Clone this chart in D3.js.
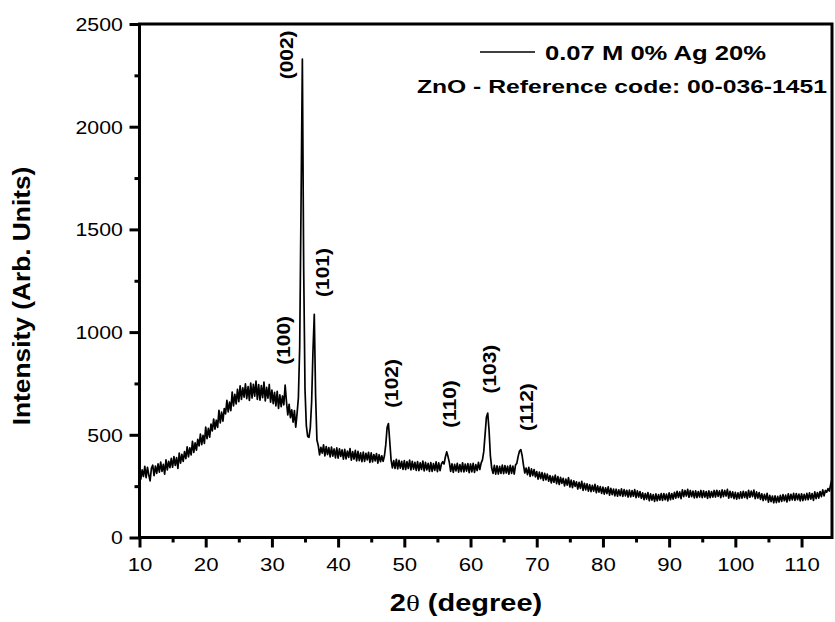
<!DOCTYPE html>
<html>
<head>
<meta charset="utf-8">
<script src="https://cdn.jsdelivr.net/npm/d3@7"></script>
<style>
  html, body { margin: 0; padding: 0; background: #fff; }
  svg { display: block; }
  text { font-family: "Liberation Sans", Arial, sans-serif; fill: #000; }
</style>
</head>
<body>
<svg id="chart" width="835" height="622"></svg>
<script>
// XRD scan: 2θ from 10° in 0.2° steps, intensity in arbitrary units
const scanStart = 10;
const scanStep = 0.2;
const intensity = [
  338, 284, 329, 297, 346,   // 10
  291, 342, 305, 276, 337,   // 11
  352, 301, 348, 312, 359,   // 12
  318, 367, 322, 356, 308,   // 13
  378, 329, 371, 340, 385,   // 14
  342, 394, 351, 389, 336,   // 15
  411, 362, 405, 371, 418,   // 16
  384, 441, 393, 436, 402,   // 17
  468, 414, 461, 425, 478,   // 18
  446, 503, 452, 497, 458,   // 19
  538, 481, 531, 489, 552,   // 20
  519, 577, 528, 571, 536,   // 21
  619, 558, 611, 566, 628,   // 22
  602, 668, 611, 659, 618,   // 23
  708, 641, 697, 650, 721,   // 24
  661, 738, 672, 729, 683,   // 25
  748, 676, 735, 667, 752,   // 26
  679, 746, 688, 761, 672,   // 27
  744, 669, 739, 681, 757,   // 28
  665, 731, 678, 745, 659,   // 29
  718, 652, 707, 641, 712,   // 30
  628, 694, 637, 689, 646,   // 31
  742, 661, 597, 648, 584,   // 32
  622, 561, 618, 537, 603,   // 33
  680, 930, 1620, 2329, 1310,// 34
  720, 545, 492, 488, 535,   // 35
  660, 905, 1087, 690, 475,  // 36
  448, 402, 439, 411, 451,   // 37
  397, 443, 404, 438, 392,   // 38
  440, 396, 431, 388, 437,   // 39
  386, 432, 395, 427, 381,   // 40
  429, 383, 421, 390, 433,   // 41
  377, 418, 382, 424, 373,   // 42
  419, 374, 412, 369, 416,   // 43
  371, 410, 378, 415, 366,   // 44
  412, 368, 404, 373, 409,   // 45
  362, 403, 369, 398, 371,   // 46
  398, 452, 535, 555, 468,   // 47
  378, 339, 374, 336, 381,   // 48
  334, 376, 338, 371, 332,   // 49
  374, 331, 369, 336, 377,   // 50
  329, 371, 333, 366, 327,   // 51
  369, 326, 364, 331, 372,   // 52
  324, 366, 329, 361, 322,   // 53
  365, 322, 360, 327, 368,   // 54
  321, 363, 326, 358, 369,   // 55
  358, 392, 417, 394, 366,   // 56
  322, 359, 317, 356, 324,   // 57
  361, 318, 355, 321, 364,   // 58
  319, 357, 323, 360, 316,   // 59
  358, 320, 361, 317, 355,   // 60
  326, 366, 331, 362, 378,   // 61
  418, 502, 586, 606, 522,   // 62
  398, 338, 312, 351, 308,   // 63
  349, 309, 346, 312, 352,   // 64
  311, 350, 314, 347, 308,   // 65
  351, 312, 348, 309, 353,   // 66
  362, 396, 421, 428, 398,   // 67
  352, 314, 338, 306, 341,   // 68
  298, 334, 301, 331, 295,   // 69
  321, 284, 318, 287, 316,   // 70
  278, 312, 281, 309, 274,   // 71
  301, 266, 298, 269, 304,   // 72
  262, 296, 258, 293, 264,   // 73
  288, 251, 284, 255, 291,   // 74
  246, 279, 243, 276, 249,   // 75
  271, 236, 268, 239, 273,   // 76
  229, 264, 232, 261, 226,   // 77
  257, 223, 254, 226, 259,   // 78
  218, 251, 221, 248, 215,   // 79
  245, 211, 242, 214, 247,   // 80
  206, 239, 209, 236, 203,   // 81
  235, 201, 232, 204, 237,   // 82
  200, 233, 203, 230, 197,   // 83
  231, 198, 228, 201, 233,   // 84
  194, 227, 197, 224, 191,   // 85
  217, 184, 214, 187, 219,   // 86
  179, 212, 182, 209, 176,   // 87
  212, 179, 209, 182, 214,   // 88
  181, 214, 184, 211, 178,   // 89
  217, 184, 214, 187, 220,   // 90
  192, 225, 195, 222, 189,   // 91
  232, 199, 229, 202, 234,   // 92
  196, 229, 199, 226, 193,   // 93
  227, 194, 224, 197, 229,   // 94
  194, 227, 197, 224, 191,   // 95
  227, 194, 224, 197, 229,   // 96
  197, 230, 200, 227, 194,   // 97
  232, 199, 229, 202, 234,   // 98
  192, 225, 195, 222, 189,   // 99
  220, 187, 217, 190, 222,   // 100
  192, 225, 195, 222, 189,   // 101
  229, 196, 226, 199, 231,   // 102
  189, 222, 192, 219, 186,   // 103
  213, 180, 210, 183, 215,   // 104
  172, 205, 175, 202, 169,   // 105
  203, 170, 200, 173, 205,   // 106
  176, 209, 179, 206, 173,   // 107
  213, 180, 210, 183, 215,   // 108
  181, 214, 184, 211, 178,   // 109
  213, 180, 210, 183, 215,   // 110
  184, 217, 187, 214, 181,   // 111
  222, 189, 219, 192, 224,   // 112
  199, 232, 203, 229, 221,   // 113
  238, 226, 258, 282         // 114
];

// ZnO reflections (hkl) and where their labels sit (2θ, intensity)
const peakLabels = ["(002)", "(100)", "(101)", "(102)", "(110)", "(103)", "(112)"];
const peakLabelAngle = [32.2, 31.8, 37.6, 48.0, 56.8, 62.9, 68.5];
const peakLabelValue = [2350, 960, 1290, 750, 650, 820, 635];

const xTicks = [10, 20, 30, 40, 50, 60, 70, 80, 90, 100, 110];
const xMinorTicks = [15, 25, 35, 45, 55, 65, 75, 85, 95, 105];
const yTicks = [0, 500, 1000, 1500, 2000, 2500];
const yMinorTicks = [250, 750, 1250, 1750, 2250];

const legendLabel = "0.07 M 0% Ag 20%";
const referenceLabel = "ZnO - Reference code: 00-036-1451";
const xTitle = ["2", "θ", " (degree)"];
const yTitle = "Intensity (Arb. Units)";

const svg = d3.select("#chart");
const plotLeft = 139.5, plotRight = 832, plotTop = 24, plotBottom = 537.5;

const x = d3.scaleLinear().domain([10, 114.6]).range([plotLeft, plotRight]);
const y = d3.scaleLinear().domain([0, 2500]).range([plotBottom, plotTop]);

const points = intensity.map((v, i) => [scanStart + i * scanStep, v]);

// pattern
svg.append("path")
  .datum(points)
  .attr("fill", "none")
  .attr("stroke", "#000")
  .attr("stroke-width", 1.7)
  .attr("stroke-linejoin", "round")
  .attr("d", d3.line().x(d => x(d[0])).y(d => y(d[1])));

// axes
const axisStyle = g => {
  g.selectAll("line").attr("stroke", "#000").attr("stroke-width", 3);
  g.select(".domain").remove();
};

const gx = svg.append("g").attr("transform", `translate(0,${plotBottom})`);
gx.call(d3.axisBottom(x).tickValues(xTicks).tickFormat(d3.format("d")).tickSize(10).tickSizeOuter(0)).call(axisStyle);
gx.selectAll("text")
  .attr("y", 34).attr("dy", 0)
  .attr("transform", "scale(1.2,1)")
  .style("font-size", "18.5px");
svg.append("g").attr("transform", `translate(0,${plotBottom})`)
  .call(d3.axisBottom(x).tickValues(xMinorTicks).tickSize(5).tickFormat(""))
  .call(axisStyle);

const gy = svg.append("g").attr("transform", `translate(${plotLeft},0)`);
gy.call(d3.axisLeft(y).tickValues(yTicks).tickFormat(d3.format("d")).tickSize(10).tickSizeOuter(0)).call(axisStyle);
gy.selectAll("text")
  .attr("x", -14.5).attr("dy", "0.35em")
  .attr("transform", "scale(1.15,1)")
  .style("font-size", "18.5px");
svg.append("g").attr("transform", `translate(${plotLeft},0)`)
  .call(d3.axisLeft(y).tickValues(yMinorTicks).tickSize(5).tickFormat(""))
  .call(axisStyle);

// frame
svg.append("rect")
  .attr("x", plotLeft).attr("y", plotTop)
  .attr("width", plotRight - plotLeft).attr("height", plotBottom - plotTop)
  .attr("fill", "none").attr("stroke", "#000").attr("stroke-width", 3);

// peak labels
svg.append("g").selectAll("text")
  .data(peakLabels)
  .join("text")
  .attr("transform", (d, i) => `translate(${x(peakLabelAngle[i])},${y(peakLabelValue[i])}) rotate(-90) scale(1.1,1)`)
  .attr("text-anchor", "middle")
  .attr("dy", "0.35em")
  .style("font-size", "19px")
  .style("font-weight", "bold")
  .text(d => d);

// legend
svg.append("line")
  .attr("x1", 480).attr("x2", 535).attr("y1", 52).attr("y2", 52)
  .attr("stroke", "#000").attr("stroke-width", 1.3);
svg.append("text")
  .attr("transform", "translate(545,60) scale(1.22,1)")
  .style("font-size", "21px").style("font-weight", "bold")
  .text(legendLabel);
svg.append("text")
  .attr("transform", "translate(827,93) scale(1.3,1)")
  .attr("text-anchor", "end")
  .style("font-size", "19px").style("font-weight", "bold")
  .text(referenceLabel);

// axis titles
const xt = svg.append("text")
  .attr("transform", "translate(466,611) scale(1.26,1)")
  .attr("text-anchor", "middle")
  .style("font-size", "23px").style("font-weight", "bold");
xt.append("tspan").text(xTitle[0]);
xt.append("tspan").style("font-family", "'Liberation Serif', serif").style("font-weight", "normal").text(xTitle[1]);
xt.append("tspan").text(xTitle[2]);

svg.append("text")
  .attr("transform", "translate(22,296) rotate(-90) scale(1.12,1)")
  .attr("text-anchor", "middle")
  .attr("dy", "0.35em")
  .style("font-size", "23.5px").style("font-weight", "bold")
  .text(yTitle);
</script>
</body>
</html>
